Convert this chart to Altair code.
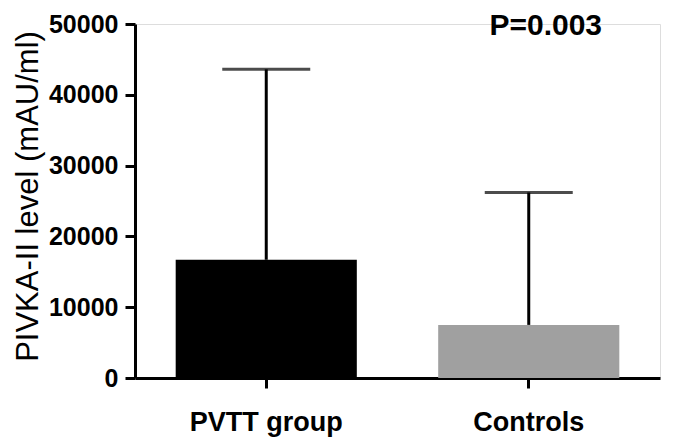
import altair as alt
import pandas as pd

groups = ["PVTT group", "Controls"]
means = [16700, 7500]
upper = [43600, 26200]
colors = ["#000000", "#a0a0a0"]
p_label = "P=0.003"

df = pd.DataFrame({"group": groups, "mean": means, "upper": upper, "color": colors})

FONT = "Liberation Sans"

x = alt.X("group:N", sort=groups,
          scale=alt.Scale(paddingInner=0.31, paddingOuter=0.155),
          axis=alt.Axis(title=None, labelAngle=0, labelFont=FONT, labelFontSize=27,
                        labelFontWeight="bold", labelColor="black", labelPadding=21,
                        tickSize=10, tickWidth=3, tickColor="black",
                        domainWidth=3, domainColor="black"))

y_scale = alt.Scale(domain=[0, 50000], nice=False)

bars = alt.Chart(df).mark_bar().encode(
    x=x,
    y=alt.Y("mean:Q", scale=y_scale,
            axis=alt.Axis(values=[0, 10000, 20000, 30000, 40000, 50000], format="d",
                          grid=False, title="PIVKA-II level (mAU/ml)",
                          titleFont=FONT, titleFontSize=31, titleFontWeight="normal",
                          titleColor="black", titleAngle=-90, titleX=-107, titleY=172,
                          titleAlign="center", titleBaseline="middle",
                          labelFont=FONT, labelFontSize=25, labelFontWeight="bold",
                          labelColor="black", labelPadding=7,
                          tickSize=10, tickWidth=3, tickColor="black",
                          domainWidth=3, domainColor="black")),
    color=alt.Color("color:N", scale=None),
)

rules = alt.Chart(df).mark_rule(color="black", strokeWidth=3).encode(
    x=alt.X("group:N", sort=groups),
    y=alt.Y("mean:Q", scale=y_scale),
    y2="upper:Q",
)

caps = alt.Chart(df).mark_tick(color="black", thickness=3, size=88).encode(
    x=alt.X("group:N", sort=groups),
    y=alt.Y("upper:Q", scale=y_scale),
)

ann = alt.Chart(pd.DataFrame({"group": [groups[1]], "label": [p_label]})).mark_text(
    font=FONT, fontSize=30, fontWeight="bold", color="black",
    align="center", baseline="middle", dx=17,
).encode(
    x=alt.X("group:N", sort=groups),
    y=alt.value(2),
    text="label:N",
)

chart = (bars + rules + caps + ann).properties(
    width=525, height=354,
    autosize=alt.AutoSizeParams(type="none"),
    padding={"left": 127, "top": 16, "right": 15, "bottom": 59},
).configure_view(stroke=None).configure(background="white")

chart.save("out.html", embed_options={"renderer": "svg", "actions": False})
